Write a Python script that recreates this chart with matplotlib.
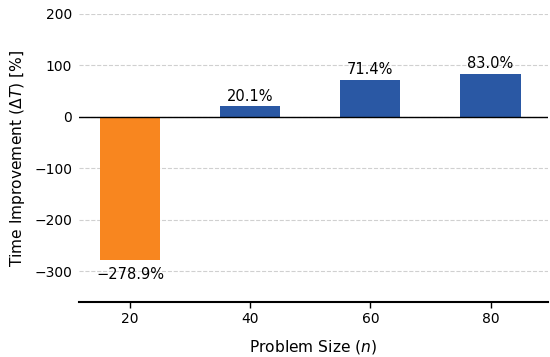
import matplotlib
matplotlib.use("Agg")
import matplotlib.pyplot as plt
import numpy as np

sizes = [20, 40, 60, 80]
improvements = [-278.9, 20.1, 71.4, 83.0]
yticks = [-300, -200, -100, 0, 100, 200]

fig = plt.figure(figsize=(5.5, 3.57), dpi=100)
ax = fig.add_axes([0.1436, 0.154, 0.852, 0.807])

colors = ["#F8861F" if v < 0 else "#2A58A4" for v in improvements]
ax.bar(sizes, improvements, width=10, color=colors, zorder=3)
ax.axhline(0, color="black", lw=1.0, zorder=4)

for x, v in zip(sizes, improvements):
    if v >= 0:
        ax.annotate(f"{v:.1f}%", (x, v), xytext=(0, 2), textcoords="offset points",
                    ha="center", va="bottom", fontsize=10.5)
    else:
        ax.annotate(f"\u2212{abs(v):.1f}%", (x, v), xytext=(0, -5), textcoords="offset points",
                    ha="center", va="top", fontsize=10.5)

ax.set_xlim(11.5, 89.5)
ax.set_ylim(-360, 200)
ax.set_xticks(sizes)
ax.set_yticks(yticks)
ax.tick_params(axis="y", length=0, labelsize=10, pad=5)
ax.tick_params(axis="x", labelsize=10, length=4, width=1)
ax.grid(axis="y", linestyle="--", color="#d0d0d0", lw=0.8, zorder=0)
for s in ["top", "right", "left"]:
    ax.spines[s].set_visible(False)
ax.spines["bottom"].set_linewidth(1.5)

ax.set_xlabel("Problem Size ($n$)", fontsize=11.2, labelpad=8)
ax.set_ylabel("Time Improvement ($\\Delta T$) [%]", fontsize=11.2, labelpad=5)

fig.savefig("out.png", dpi=100)
